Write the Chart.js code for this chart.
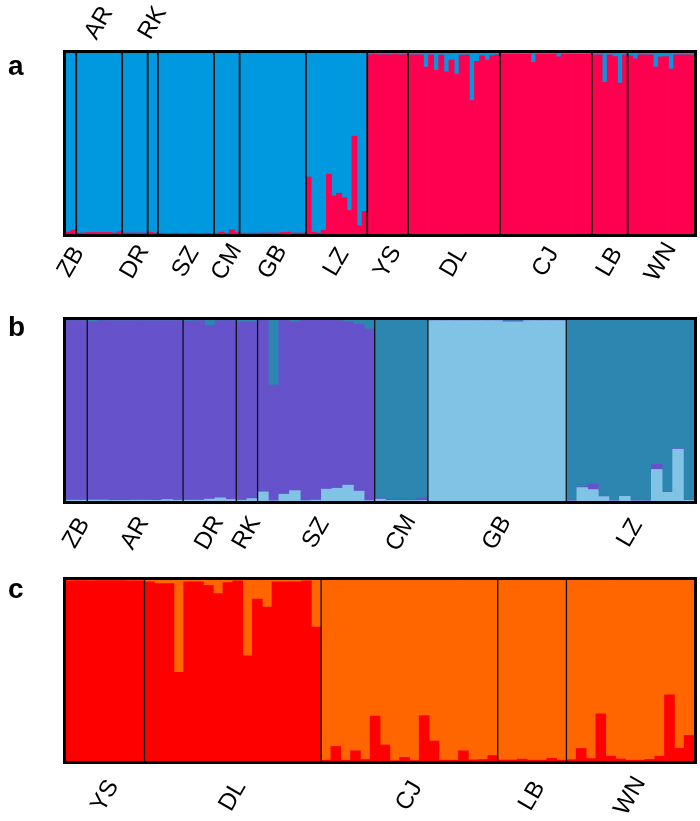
<!DOCTYPE html>
<html>
<head>
<meta charset="utf-8">
<script src="https://cdn.jsdelivr.net/npm/chart.js@4.4.1/dist/chart.umd.min.js"></script>
<style>
  body { margin: 0; background: #fff; width: 700px; height: 821px; position: relative; overflow: hidden; }
  canvas { position: absolute; left: 0; }
</style>
</head>
<body>
<canvas id="ca" width="700" height="300" style="top:0px"></canvas>
<canvas id="cb" width="700" height="260" style="top:300px"></canvas>
<canvas id="cc" width="700" height="261" style="top:560px"></canvas>
<script>
// populations and sample counts
const popsA = ['ZB','AR','DR','RK','SZ','CM','GB','LZ','YS','DL','CJ','LB','WN'];
const nA = [2, 9, 5, 2, 11, 5, 13, 12, 8, 18, 18, 7, 13];
const popsB = ['ZB','AR','DR','RK','SZ','CM','GB','LZ'];
const nB = [2, 9, 5, 2, 11, 5, 13, 12];
const popsC = ['YS','DL','CJ','LB','WN'];
const nC = [8, 18, 18, 7, 13];

// panel a, K=2 (red cluster at bottom, blue on top)
const redA = [
  0.010,0.020,
  0.005,0.005,0.008,0.008,0.008,0.008,0.008,0.005,0.012,
  0.005,0.005,0.005,0.005,0.005,
  0.010,0.005,
  0.004,0.003,0.003,0.004,0.003,0.003,0.004,0.003,0.003,0.004,0.003,
  0.004,0.010,0.004,0.022,0.008,
  0.004,0.004,0.004,0.004,0.005,0.005,0.005,0.005,0.008,0.010,0.005,0.005,0.005,
  0.315,0.010,0.005,0.020,0.330,0.210,0.225,0.200,0.130,0.540,0.045,0.125,
  0.990,0.992,0.990,0.991,0.990,0.992,0.990,0.991,
  0.990,0.990,0.990,0.922,0.990,0.904,0.988,0.895,0.960,0.883,0.988,0.988,0.737,0.954,0.985,0.960,0.985,0.990,
  0.992,0.992,0.992,0.992,0.992,0.992,0.948,0.992,0.992,0.992,0.992,0.978,0.992,0.992,0.992,0.992,0.992,0.992,
  0.990,0.990,0.837,0.990,0.980,0.833,0.990,
  0.985,0.967,0.990,0.990,0.990,0.922,0.978,0.980,0.911,0.990,0.990,0.990,0.990
];
const blueA = [
  0.990,0.980,
  0.995,0.995,0.992,0.992,0.992,0.992,0.992,0.995,0.988,
  0.995,0.995,0.995,0.995,0.995,
  0.990,0.995,
  0.996,0.997,0.997,0.996,0.997,0.997,0.996,0.997,0.997,0.996,0.997,
  0.996,0.990,0.996,0.978,0.992,
  0.996,0.996,0.996,0.996,0.995,0.995,0.995,0.995,0.992,0.990,0.995,0.995,0.995,
  0.685,0.990,0.995,0.980,0.670,0.790,0.775,0.800,0.870,0.460,0.955,0.875,
  0.010,0.008,0.010,0.009,0.010,0.008,0.010,0.009,
  0.010,0.010,0.010,0.078,0.010,0.096,0.012,0.105,0.040,0.117,0.012,0.012,0.263,0.046,0.015,0.040,0.015,0.010,
  0.008,0.008,0.008,0.008,0.008,0.008,0.052,0.008,0.008,0.008,0.008,0.022,0.008,0.008,0.008,0.008,0.008,0.008,
  0.010,0.010,0.163,0.010,0.020,0.167,0.010,
  0.015,0.033,0.010,0.010,0.010,0.078,0.022,0.020,0.089,0.010,0.010,0.010,0.010
];

// panel b, K=3 (light blue bottom, purple middle, teal top)
const lightB = [
  0.004,0.004,
  0.005,0.005,0.003,0.003,0.004,0.004,0.003,0.008,0.004,
  0.004,0.004,0.010,0.017,0.008,
  0.004,0.013,
  0.050,0.001,0.037,0.057,0.002,0.004,0.065,0.070,0.087,0.054,0.002,
  0.010,0.003,0.003,0.003,0.003,
  0.996,0.996,0.996,0.996,0.996,0.996,0.996,0.990,0.990,0.996,0.996,0.996,0.996,
  0.000,0.074,0.063,0.024,0.000,0.026,0.000,0.000,0.174,0.048,0.286,0.004
];
const purpleB = [
  0.992,0.992,
  0.985,0.991,0.994,0.994,0.993,0.993,0.994,0.989,0.993,
  0.990,0.992,0.960,0.979,0.988,
  0.986,0.977,
  0.948,0.639,0.961,0.933,0.996,0.994,0.933,0.926,0.903,0.922,0.948,
  0.005,0.006,0.006,0.005,0.013,
  0.002,0.002,0.002,0.002,0.002,0.002,0.002,0.004,0.004,0.002,0.002,0.002,0.002,
  0.004,0.004,0.030,0.002,0.002,0.004,0.002,0.002,0.028,0.004,0.004,0.004
];
const tealB = [
  0.004,0.004,
  0.010,0.004,0.003,0.003,0.003,0.003,0.003,0.003,0.003,
  0.006,0.004,0.030,0.004,0.004,
  0.010,0.010,
  0.002,0.360,0.002,0.010,0.002,0.002,0.002,0.004,0.010,0.024,0.050,
  0.985,0.991,0.991,0.992,0.984,
  0.002,0.002,0.002,0.002,0.002,0.002,0.002,0.006,0.006,0.002,0.002,0.002,0.002,
  0.996,0.922,0.907,0.974,0.998,0.970,0.998,0.998,0.798,0.948,0.710,0.992
];

// panel c, K=2 (red bottom, orange top)
const redC = [
  0.995,0.997,0.995,0.997,0.997,0.997,0.995,0.995,
  0.990,0.980,0.980,0.490,0.990,0.990,0.970,0.925,0.985,0.995,0.580,0.894,0.850,0.990,0.990,0.990,0.995,0.740,
  0.004,0.080,0.004,0.056,0.008,0.248,0.088,0.001,0.020,0.002,0.250,0.110,0.004,0.004,0.056,0.006,0.008,0.030,
  0.005,0.005,0.010,0.004,0.004,0.015,0.004,
  0.007,0.069,0.013,0.260,0.026,0.011,0.004,0.004,0.009,0.026,0.365,0.070,0.141
];
const orangeC = [
  0.005,0.003,0.005,0.003,0.003,0.003,0.005,0.005,
  0.010,0.020,0.020,0.510,0.010,0.010,0.030,0.075,0.015,0.005,0.420,0.106,0.150,0.010,0.010,0.010,0.005,0.260,
  0.996,0.920,0.996,0.944,0.992,0.752,0.912,0.999,0.980,0.998,0.750,0.890,0.996,0.996,0.944,0.994,0.992,0.970,
  0.995,0.995,0.990,0.996,0.996,0.985,0.996,
  0.993,0.931,0.987,0.740,0.974,0.989,0.996,0.996,0.991,0.974,0.635,0.930,0.859
];

const FONT = '"Liberation Sans", Arial, sans-serif';

function structurePlot(id, pops, counts, series, o) {
  const total = counts.reduce((s, v) => s + v, 0);
  const labels = [];
  for (let i = 1; i <= total; i++) labels.push(String(i));

  const deco = {
    id: 'deco',
    afterDatasetsDraw(chart) {
      const ctx = chart.ctx, a = chart.chartArea, xs = chart.scales.x;
      ctx.save();
      // population separators
      ctx.strokeStyle = '#111';
      ctx.lineWidth = o.sepWidth;
      let c = 0;
      for (let i = 0; i < counts.length - 1; i++) {
        c += counts[i];
        const x = xs.getPixelForValue(c - 0.5);
        ctx.beginPath();
        ctx.moveTo(x, a.top);
        ctx.lineTo(x, a.bottom);
        ctx.stroke();
      }
      // frame
      ctx.strokeStyle = '#000';
      ctx.lineWidth = 3;
      ctx.strokeRect(a.left - 1.5, a.top - 1.5, a.right - a.left + 3, a.bottom - a.top + 3);
      // population names
      ctx.fillStyle = '#000';
      ctx.font = '24px ' + FONT;
      ctx.textAlign = 'center';
      ctx.textBaseline = 'middle';
      let start = 0;
      pops.forEach((p, i) => {
        const cx = xs.getPixelForValue(start + (counts[i] - 1) / 2);
        const onTop = (o.topPops || []).includes(p);
        const cy = onTop ? a.top - o.topDy : a.bottom + o.labelDy;
        ctx.save();
        ctx.translate(cx, cy);
        ctx.rotate(-o.angle * Math.PI / 180);
        ctx.fillText(p, 0, 0);
        ctx.restore();
        start += counts[i];
      });
      // panel letter
      ctx.font = 'bold 28px ' + FONT;
      ctx.textAlign = 'left';
      ctx.textBaseline = 'alphabetic';
      ctx.fillText(o.letter, 8, o.letterY);
      ctx.restore();
    }
  };

  return new Chart(document.getElementById(id), {
    type: 'bar',
    data: {
      labels: labels,
      datasets: series.map(s => ({
        data: s.data,
        backgroundColor: s.color,
        borderWidth: 0,
        inflateAmount: 0.4,
        barPercentage: 1,
        categoryPercentage: 1
      }))
    },
    options: {
      responsive: false,
      animation: false,
      layout: { padding: { left: 66, right: 6, top: o.padTop, bottom: o.padBottom } },
      plugins: { legend: { display: false }, tooltip: { enabled: false } },
      scales: {
        x: { stacked: true, display: false },
        y: { stacked: true, display: false, min: 0, max: 1 }
      }
    },
    plugins: [deco]
  });
}

structurePlot('ca', popsA, nA, [
  { data: redA, color: '#ff0050' },
  { data: blueA, color: '#0099e0' }
], { padTop: 53, padBottom: 66, sepWidth: 1.8, labelDy: 28, topPops: ['AR','RK'], topDy: 30, angle: 60, letter: 'a', letterY: 75 });

structurePlot('cb', popsB, nB, [
  { data: lightB, color: '#80c3e4' },
  { data: purpleB, color: '#6652cb' },
  { data: tealB, color: '#2c86b0' }
], { padTop: 20, padBottom: 59, sepWidth: 1.3, labelDy: 32, angle: 60, letter: 'b', letterY: 36 });

structurePlot('cc', popsC, nC, [
  { data: redC, color: '#ff0000' },
  { data: orangeC, color: '#ff6600' }
], { padTop: 20, padBottom: 60, sepWidth: 1.3, labelDy: 35, angle: 60, letter: 'c', letterY: 38 });
</script>
</body>
</html>
